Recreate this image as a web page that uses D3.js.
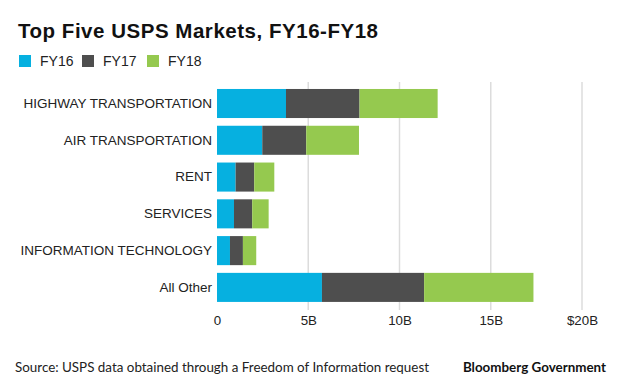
<!DOCTYPE html>
<html>
<head>
<meta charset="utf-8">
<script src="https://cdn.jsdelivr.net/npm/d3@7"></script>
<style>
  html, body { margin: 0; padding: 0; background: #fff; }
  svg { display: block; }
</style>
</head>
<body>
<svg id="chart" width="620" height="381"></svg>
<script>
const categories = ["HIGHWAY TRANSPORTATION", "AIR TRANSPORTATION", "RENT", "SERVICES", "INFORMATION TECHNOLOGY", "All Other"];
const seriesNames = ["FY16", "FY17", "FY18"];
const fy16 = [3.78, 2.48, 1.02, 0.93, 0.71, 5.75];
const fy17 = [4.03, 2.41, 1.02, 1.00, 0.71, 5.60];
const fy18 = [4.28, 2.89, 1.10, 0.90, 0.73, 5.99];
const tickValues = [0, 5, 10, 15, 20];
const tickLabels = ["0", "5B", "10B", "15B", "$20B"];
const colors = ["#06b0e0", "#4e4e4e", "#95c94f"];

const svg = d3.select("#chart");
const labelFont = "'Liberation Sans', Arial, sans-serif";

const rows = categories.map((c, i) => ({ cat: c, FY16: fy16[i], FY17: fy17[i], FY18: fy18[i] }));
const stacked = d3.stack().keys(seriesNames)(rows);

const x = d3.scaleLinear().domain([0, 20]).range([217, 582]);
const y = d3.scaleBand().domain(categories).range([85.3, 305.6]).paddingInner(0.21).paddingOuter(0.1);
const color = d3.scaleOrdinal().domain(seriesNames).range(colors);

// Title
const title = svg.append("text")
  .attr("x", 18).attr("y", 37.5)
  .attr("font-family", labelFont)
  .attr("font-weight", "bold")
  .attr("font-size", 20.5)
  .attr("fill", "#111")
  .text("Top Five USPS Markets, FY16-FY18");
// fit title to reference width
const tw = title.node().getComputedTextLength();
title.attr("letter-spacing", (360 - tw) / 31);

// Legend
const legendX = [19, 82, 147];
const legend = svg.append("g");
seriesNames.forEach((s, i) => {
  legend.append("rect")
    .attr("x", legendX[i]).attr("y", 55)
    .attr("width", 12).attr("height", 12)
    .attr("fill", color(s));
  legend.append("text")
    .attr("x", legendX[i] + 21).attr("y", 66)
    .attr("font-family", labelFont)
    .attr("font-size", 14)
    .attr("fill", "#222")
    .text(s);
});

// Gridlines
svg.append("g")
  .selectAll("line")
  .data(tickValues.filter(d => d > 0))
  .join("line")
  .attr("x1", d => x(d)).attr("x2", d => x(d))
  .attr("y1", 82).attr("y2", 310)
  .attr("stroke", "#dcdcdc")
  .attr("stroke-width", 1.5);

// Bars
svg.append("g")
  .selectAll("g")
  .data(stacked)
  .join("g")
  .attr("fill", d => color(d.key))
  .selectAll("rect")
  .data(d => d)
  .join("rect")
  .attr("x", d => x(d[0]))
  .attr("width", d => x(d[1]) - x(d[0]))
  .attr("y", d => y(d.data.cat))
  .attr("height", y.bandwidth());

// Y axis labels
const yAxis = d3.axisLeft(y).tickSize(0).tickPadding(5);
const yg = svg.append("g").attr("transform", "translate(217,0)").call(yAxis);
yg.select(".domain").remove();
yg.selectAll("text")
  .attr("font-family", labelFont)
  .attr("font-size", 13.5)
  .attr("fill", "#222");

// X axis labels
const xAxis = d3.axisBottom(x).tickValues(tickValues).tickFormat((d, i) => tickLabels[i]).tickSize(0).tickPadding(0);
const xg = svg.append("g").attr("transform", "translate(0,316)").call(xAxis);
xg.select(".domain").remove();
xg.selectAll("text")
  .attr("font-family", labelFont)
  .attr("font-size", 13.3)
  .attr("fill", "#222")
  .attr("dy", "0.71em");

// Footer
svg.append("text")
  .attr("x", 15).attr("y", 371.5)
  .attr("font-family", "Lato, 'Open Sans', sans-serif")
  .attr("font-size", 13.4)
  .attr("fill", "#222")
  .text("Source: USPS data obtained through a Freedom of Information request");

svg.append("text")
  .attr("x", 606).attr("y", 371.5)
  .attr("text-anchor", "end")
  .attr("font-family", "Lato, 'Open Sans', sans-serif")
  .attr("font-weight", "bold")
  .attr("font-size", 13.4)
  .attr("fill", "#111")
  .text("Bloomberg Government");
</script>
</body>
</html>
